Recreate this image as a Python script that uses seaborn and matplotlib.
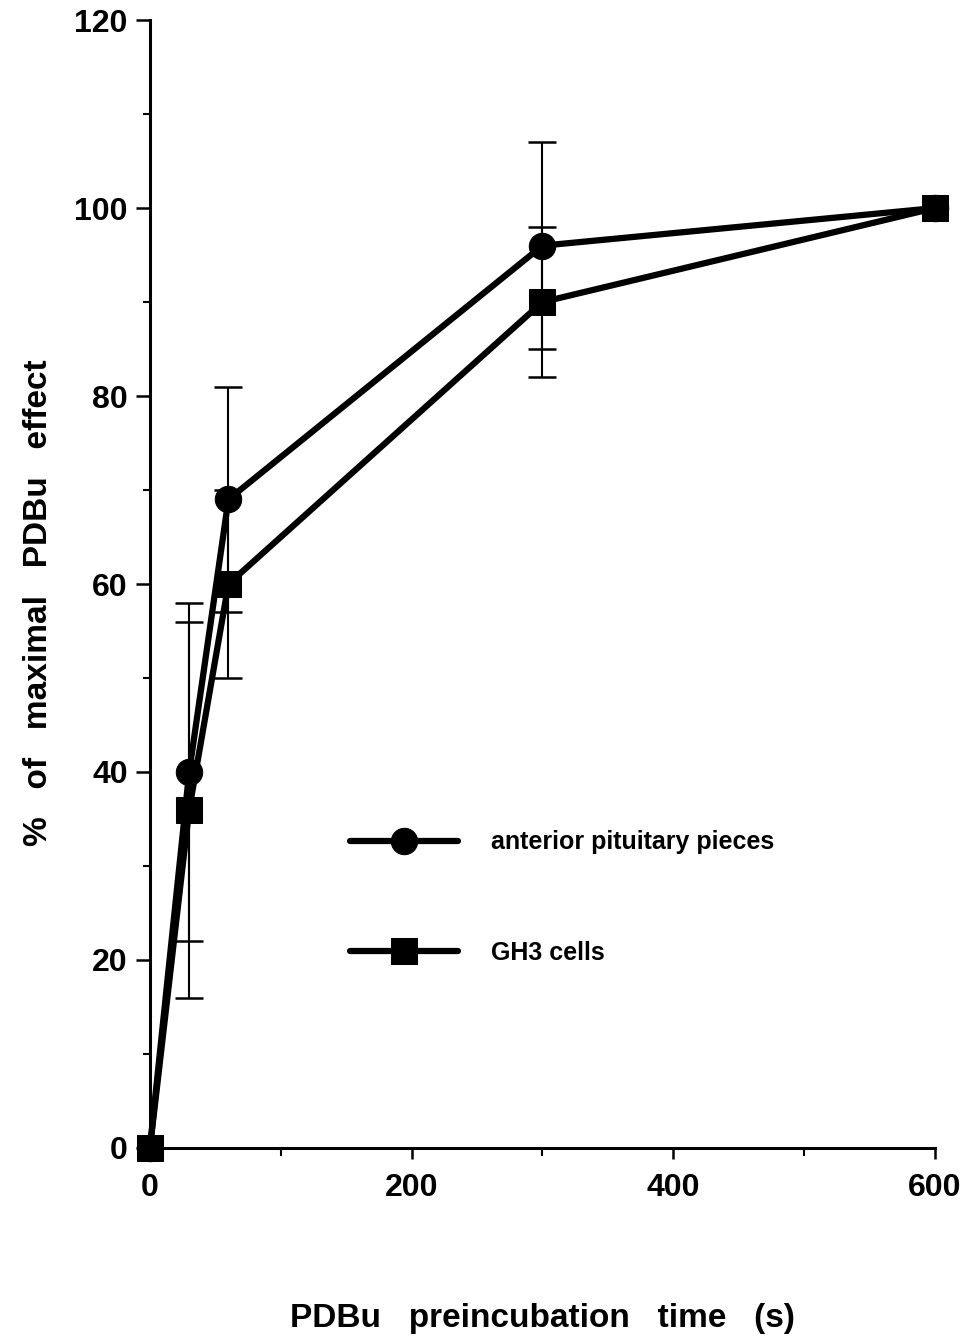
import matplotlib
matplotlib.use("Agg")
import matplotlib.pyplot as plt
import seaborn as sns
import pandas as pd
import numpy as np
from matplotlib.ticker import MultipleLocator

# Data
time_s = [0, 30, 60, 300, 600]
pituitary = [0, 40, 69, 96, 100]
pituitary_err = [0, 18, 12, 11, 0]
gh3 = [0, 36, 60, 90, 100]
gh3_err = [0, 20, 10, 8, 0]
series_names = ["anterior pituitary pieces", "GH3 cells"]

df = pd.DataFrame({
    "time": time_s * 2,
    "pct": pituitary + gh3,
    "series": [series_names[0]] * len(time_s) + [series_names[1]] * len(time_s),
})

sns.set_theme(style="ticks")
plt.rcParams["font.family"] = ["Liberation Sans", "DejaVu Sans"]
plt.rcParams["font.weight"] = "bold"
plt.rcParams["text.color"] = "black"
plt.rcParams["axes.labelcolor"] = "black"
plt.rcParams["xtick.color"] = "black"
plt.rcParams["ytick.color"] = "black"

fig = plt.figure(figsize=(9.8, 13.39), dpi=100)
ax = fig.add_axes([0.153, 0.1427, 0.801, 0.8423])

# error bars
for y, e in [(pituitary, pituitary_err), (gh3, gh3_err)]:
    x_e = [t for t, ee in zip(time_s, e) if ee > 0]
    y_e = [v for v, ee in zip(y, e) if ee > 0]
    e_e = [ee for ee in e if ee > 0]
    ax.errorbar(x_e, y_e, yerr=e_e, fmt="none", ecolor="black",
                elinewidth=1.5, capsize=10, capthick=1.8, zorder=2)

sns.lineplot(data=df, x="time", y="pct", style="series",
             markers={series_names[0]: "o", series_names[1]: "s"},
             dashes=False, color="black", linewidth=4.5, markersize=19,
             markeredgecolor="black", ax=ax, zorder=3, sort=False)

for ln in ax.lines:
    ln.set_clip_on(False)

ax.set_xlim(0, 600)
ax.set_ylim(0, 120)
ax.xaxis.set_major_locator(MultipleLocator(200))
ax.xaxis.set_minor_locator(MultipleLocator(100))
ax.yaxis.set_major_locator(MultipleLocator(20))
ax.yaxis.set_minor_locator(MultipleLocator(10))

sns.despine(ax=ax)
for s in ["left", "bottom"]:
    ax.spines[s].set_linewidth(2.2)
    ax.spines[s].set_color("black")

ax.tick_params(axis="y", which="major", length=10, width=1.8, pad=6,
               labelsize=23, colors="black")
ax.tick_params(axis="y", which="minor", length=5, width=1.5)
ax.tick_params(axis="x", which="major", length=8, width=1.8, pad=10,
               labelsize=23, colors="black")
ax.tick_params(axis="x", which="minor", length=6, width=1.5)
for lbl in ax.get_xticklabels() + ax.get_yticklabels():
    lbl.set_fontweight("bold")

ax.set_xlabel("PDBu   preincubation   time   (s)", fontsize=24,
              fontweight="bold", labelpad=72, color="black")
ax.set_ylabel("%   of   maximal   PDBu   effect", fontsize=24,
              fontweight="bold", labelpad=18, color="black")
ax.yaxis.set_label_coords(-0.122, 0.483)

handles, labels = ax.get_legend_handles_labels()
leg = ax.legend(handles, labels, loc="center left",
                bbox_to_anchor=(0.255, 0.222), frameon=False,
                handlelength=4.3, handletextpad=1.35, labelspacing=3.45,
                borderpad=0, borderaxespad=0,
                prop={"size": 18, "weight": "bold"})
for h in leg.legend_handles:
    h.set_linewidth(4.5)
    h.set_markersize(19)
for t in leg.get_texts():
    t.set_color("black")

fig.savefig("out.png", dpi=100, facecolor="white")
